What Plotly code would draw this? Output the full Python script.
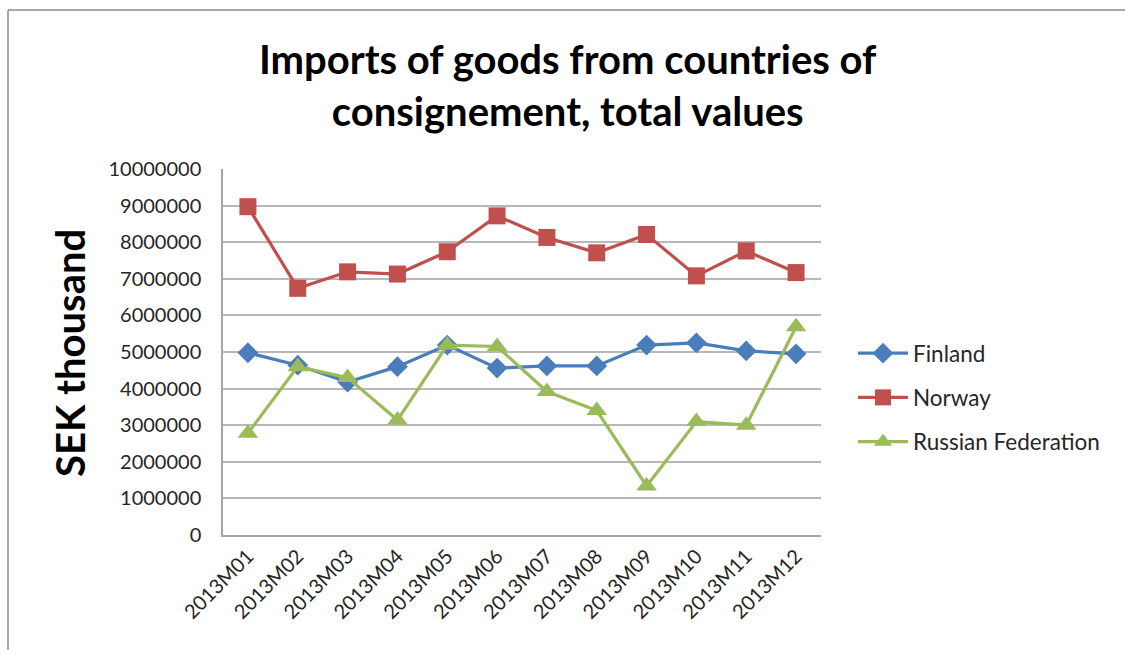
import plotly.graph_objects as go

months = ["2013M01", "2013M02", "2013M03", "2013M04", "2013M05", "2013M06",
          "2013M07", "2013M08", "2013M09", "2013M10", "2013M11", "2013M12"]

finland = [4980000, 4640000, 4180000, 4600000, 5190000, 4560000,
           4620000, 4620000, 5190000, 5250000, 5030000, 4950000]
norway = [8970000, 6740000, 7190000, 7130000, 7740000, 8720000,
          8130000, 7710000, 8210000, 7080000, 7760000, 7170000]
russia = [2780000, 4600000, 4300000, 3140000, 5190000, 5150000,
          3920000, 3400000, 1340000, 3100000, 3000000, 5690000]

y_ticks = list(range(0, 10000001, 1000000))

FONT = "Lato"
L, R, T, B = 223, 304, 169, 115
W, H = 1125, 650
PW, PH = W - L - R, H - T - B

series = [
    ("Finland", finland, "#4A7EBB", "diamond", 16),
    ("Norway", norway, "#C0504D", "square", 17),
    ("Russian Federation", russia, "#9BBB59", "triangle-up", 18),
]

fig = go.Figure()
for i, (name, vals, color, symbol, size) in enumerate(series):
    fig.add_trace(go.Scatter(
        x=months, y=vals, name=name, mode="lines+markers",
        line=dict(color=color, width=3.2),
        marker=dict(symbol=symbol, size=size, color=color),
        legendgroup=f"g{i}",
    ))

def px_x(p):
    return (p - L) / PW

def px_y(p):
    return (H - B - p) / PH

fig.update_layout(
    width=W, height=H,
    margin=dict(l=L, r=R, t=T, b=B),
    paper_bgcolor="white", plot_bgcolor="white",
    font=dict(family=FONT, color="#262626"),
    showlegend=True,
    legend=dict(
        x=px_x(853), y=px_y(332), xanchor="left", yanchor="top",
        font=dict(size=22.5, family=FONT, color="#262626"),
        tracegroupgap=12, itemwidth=50, bgcolor="rgba(0,0,0,0)",
    ),
    xaxis=dict(
        type="category", tickangle=-45, showgrid=False,
        showline=True, linecolor="#A6A6A6", linewidth=1.5,
        tickfont=dict(size=20, family=FONT, color="#262626"),
        ticks="", range=[-0.5, 11.5],
    ),
    yaxis=dict(
        range=[0, 10000000], tickvals=y_ticks,
        ticktext=[str(v) for v in y_ticks],
        showgrid=True, gridcolor="#B8B8B8", gridwidth=1.5,
        showline=True, linecolor="#A6A6A6", linewidth=1.5,
        zeroline=False, ticks="", ticklabelstandoff=16,
        tickfont=dict(size=20, family=FONT, color="#262626"),
    ),
    annotations=[
        dict(text="<b>Imports of goods from countries of<br>consignement, total values</b>",
             xref="paper", yref="paper", x=px_x(568), y=px_y(85),
             xanchor="center", yanchor="middle", showarrow=False,
             font=dict(size=40, family=FONT, color="#000000")),
        dict(text="<b>SEK thousand</b>", textangle=-90,
             xref="paper", yref="paper", x=px_x(70), y=px_y(353),
             xanchor="center", yanchor="middle", showarrow=False,
             font=dict(size=40, family=FONT, color="#000000")),
    ],
    shapes=[
        dict(type="line", xref="paper", yref="paper",
             x0=px_x(8), x1=px_x(1130), y0=px_y(10), y1=px_y(10),
             line=dict(color="#8C8C8C", width=1.5)),
        dict(type="line", xref="paper", yref="paper",
             x0=px_x(8), x1=px_x(8), y0=px_y(10), y1=px_y(660),
             line=dict(color="#8C8C8C", width=1.5)),
    ],
)

fig.write_html("out.html")
